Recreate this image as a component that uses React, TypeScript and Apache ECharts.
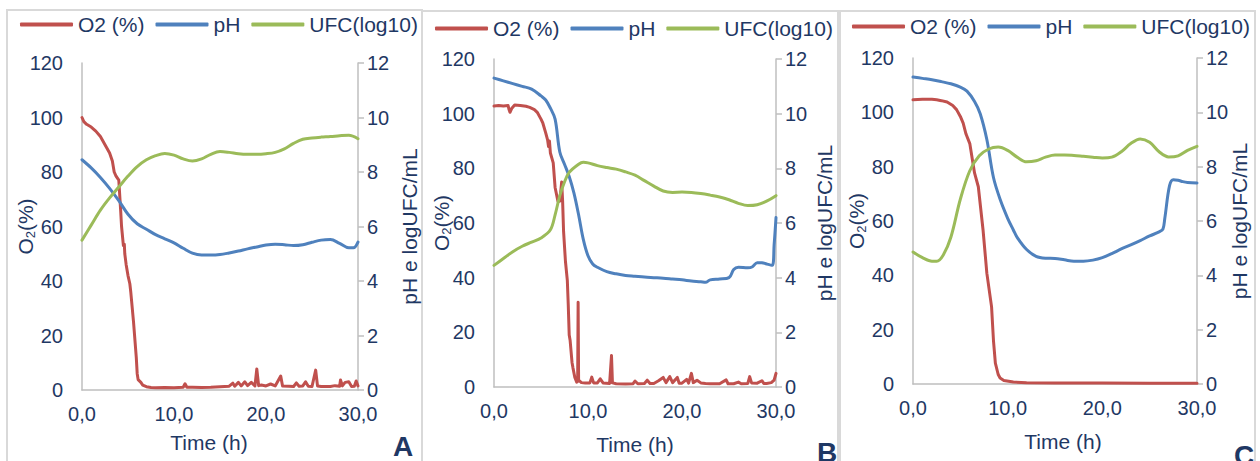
import React, { useEffect, useRef } from "react";
import * as echarts from "echarts";

// ---------- DATA (time in h, value) ----------
const seriesNames = ["O2 (%)", "pH", "UFC(log10)"];
const panelLetters = ["A", "B", "C"];
const xTickMax = 30;
const leftAxisMax = 120;
const rightAxisMax = 12;

const o2A: [number, number][] = [
  [0, 100], [0.2, 98.5], [0.5, 97.5], [1.0, 96.5], [1.5, 95], [2.0, 93], [2.5, 90], [3.0, 87], [3.3, 84],
  [3.5, 80], [3.7, 78.5], [4.0, 77], [4.2, 66], [4.3, 60], [4.5, 53], [4.6, 53.5], [4.65, 50], [4.8, 46],
  [5.0, 42], [5.2, 39], [5.3, 36], [5.6, 25], [5.9, 12], [6.0, 6], [6.1, 3.8], [6.4, 2.8], [6.6, 1.8],
  [7.0, 1.2], [7.5, 0.9], [8, 0.8], [9, 0.9], [10, 0.8], [11, 1.0], [11.2, 2.3], [11.4, 1.0], [12, 1.0],
  [13, 0.9], [14, 1.0], [15, 1.2], [16, 1.4], [16.4, 2.5], [16.6, 1.4], [17, 2.8], [17.3, 1.5], [17.7, 3],
  [18, 1.6], [18.4, 2.8], [18.8, 1.5], [19.0, 7.7], [19.2, 1.6], [19.5, 1.8], [20, 1.5], [20.5, 2.2],
  [21, 1.5], [21.6, 5.1], [21.8, 1.5], [22.5, 1.4], [23, 1.3], [23.3, 2.6], [23.6, 1.4], [24, 1.5],
  [24.3, 3], [24.6, 1.4], [25, 1.3], [25.4, 7.3], [25.6, 1.5], [26, 1.3], [27, 1.3], [27.5, 1.6], [28, 1.4],
  [28.1, 3.7], [28.3, 1.5], [28.6, 2.8], [29, 3.0], [29.3, 1.3], [29.6, 1.4], [29.8, 3.3], [30, 1.5],
];
const phA: [number, number][] = [
  [0, 8.45], [1, 8.15], [2, 7.8], [3, 7.4], [4, 6.95], [5, 6.45], [6, 6.1], [7, 5.9], [8, 5.7], [9, 5.55],
  [10, 5.4], [11, 5.2], [12, 5.02], [13, 4.95], [14, 4.95], [15, 4.97], [16, 5.03], [17, 5.1], [18, 5.18],
  [19, 5.25], [20, 5.32], [21, 5.35], [22, 5.33], [23, 5.3], [24, 5.33], [25, 5.42], [26, 5.5], [27, 5.52],
  [28, 5.38], [29, 5.22], [29.5, 5.22], [30, 5.43],
];
const ufcA: [number, number][] = [
  [0, 5.5], [1, 6.05], [2, 6.6], [3, 7.05], [4, 7.45], [5, 7.85], [6, 8.2], [7, 8.45], [8, 8.6], [9, 8.68],
  [10, 8.62], [11, 8.48], [12, 8.4], [13, 8.48], [14, 8.65], [15, 8.75], [16, 8.72], [17, 8.67], [18, 8.65],
  [19, 8.65], [20, 8.67], [21, 8.72], [22, 8.85], [23, 9.05], [24, 9.2], [25, 9.25], [26, 9.28], [27, 9.3],
  [28, 9.33], [29, 9.35], [30, 9.22],
];

const o2B: [number, number][] = [
  [0, 102.8], [0.5, 103], [1, 102.8], [1.5, 103], [1.6, 101.5], [1.7, 100.5], [1.9, 102], [2.2, 103.2],
  [2.8, 103], [3.4, 102.7], [3.8, 102.3], [4.3, 101.5], [4.6, 100.5], [5.0, 98], [5.2, 96.5], [5.5, 93],
  [5.7, 90.4], [5.8, 88], [5.9, 90], [6.0, 85.6], [6.3, 82], [6.5, 73], [6.8, 68], [7.0, 68], [7.2, 75],
  [7.3, 68], [7.4, 57], [7.6, 46], [7.8, 39], [7.9, 30], [8.0, 19], [8.1, 17], [8.3, 9], [8.4, 7], [8.6, 3.5],
  [8.8, 1.8], [8.9, 2], [8.95, 31], [9.0, 2.5], [9.3, 1.6], [9.7, 1.5], [10.2, 1.5], [10.4, 3.6], [10.6, 1.5],
  [11, 1.5], [11.3, 3], [11.6, 1.5], [12.3, 1.3], [12.5, 11.5], [12.6, 1.5], [13, 1.2], [14, 1.1], [14.8, 1.2],
  [15, 2.2], [15.3, 1.2], [16, 1.3], [16.3, 2.5], [16.6, 1.3], [17, 1.3], [17.5, 2.3], [18, 3.5], [18.3, 1.6],
  [18.7, 3.8], [19, 1.6], [19.5, 3.5], [19.7, 1.4], [20, 1.4], [20.5, 2.8], [20.7, 1.4], [21, 5], [21.2, 1.6],
  [21.6, 2.5], [22, 1.5], [22.5, 1.3], [23, 1.2], [24, 1.2], [24.7, 2.6], [24.9, 1.2], [25.5, 1.2], [26, 1.8],
  [26.3, 1.2], [27, 1.3], [27.2, 3.8], [27.4, 1.5], [28, 1.4], [28.5, 2.3], [28.7, 1.3], [29, 1.3],
  [29.5, 1.6], [29.8, 2.5], [30, 5],
];
const phB: [number, number][] = [
  [0, 11.3], [1, 11.2], [2, 11.1], [3, 11.0], [4, 10.9], [5, 10.65], [5.5, 10.5], [6, 10.2], [6.5, 9.8],
  [7, 8.6], [7.5, 8.15], [8, 7.7], [8.5, 7.1], [9, 6.3], [9.5, 5.4], [10, 4.8], [10.5, 4.5], [11, 4.38],
  [12, 4.22], [13, 4.14], [14, 4.08], [15, 4.05], [16, 4.02], [17, 4.0], [18, 3.98], [19, 3.95], [20, 3.92],
  [21, 3.88], [22, 3.85], [22.5, 3.83], [23, 3.92], [24, 3.95], [25, 4.0], [25.5, 4.3], [26, 4.38],
  [27, 4.36], [27.5, 4.4], [28, 4.55], [28.5, 4.55], [29, 4.5], [29.6, 4.45], [29.8, 5.2], [30, 6.2],
];
const ufcB: [number, number][] = [
  [0, 4.45], [1, 4.7], [2, 4.95], [3, 5.15], [4, 5.3], [5, 5.45], [6, 5.75], [6.5, 6.3], [7, 7.0], [7.5, 7.5],
  [8, 7.85], [9, 8.15], [9.5, 8.22], [10, 8.2], [11, 8.1], [12, 8.03], [13, 7.97], [14, 7.87], [15, 7.75],
  [16, 7.55], [17, 7.35], [18, 7.17], [19, 7.12], [20, 7.13], [21, 7.12], [22, 7.08], [23, 7.02], [24, 6.95],
  [25, 6.85], [26, 6.72], [27, 6.64], [28, 6.67], [29, 6.8], [30, 7.0],
];

const o2C: [number, number][] = [
  [0, 104.6], [1, 104.8], [2, 104.8], [2.5, 104.6], [3, 104.3], [3.6, 103.8], [4.2, 102.5], [4.6, 101],
  [5.0, 98.5], [5.3, 96], [5.6, 92], [6.0, 88.5], [6.3, 82], [6.5, 77.7], [6.9, 72.6], [7.4, 56.7],
  [7.8, 40.8], [8.3, 28.4], [8.5, 16], [8.7, 7.7], [9.0, 3.5], [9.2, 2.2], [9.6, 1.3], [10.6, 0.7],
  [12, 0.5], [15, 0.4], [20, 0.4], [25, 0.3], [30, 0.3],
];
const phC: [number, number][] = [
  [0, 11.3], [1, 11.25], [2, 11.2], [3, 11.13], [4, 11.05], [5, 10.93], [5.7, 10.78], [6.5, 10.4],
  [7.1, 9.95], [7.8, 9.0], [8.5, 7.6], [9.2, 6.8], [10, 6.1], [10.6, 5.67], [11, 5.4], [12, 4.95], [13, 4.7],
  [14, 4.63], [15, 4.62], [16, 4.57], [17, 4.52], [18, 4.52], [19, 4.56], [20, 4.65], [21, 4.8], [22, 4.97],
  [23, 5.12], [24, 5.28], [25, 5.45], [26, 5.6], [26.4, 5.7], [26.6, 6.1], [27.1, 7.3], [27.5, 7.52],
  [28, 7.5], [28.5, 7.45], [29, 7.42], [30, 7.4],
];
const ufcC: [number, number][] = [
  [0, 4.86], [1, 4.65], [2, 4.52], [2.5, 4.52], [3.2, 4.75], [4, 5.4], [5, 6.8], [6, 7.85], [7, 8.4],
  [8, 8.65], [9, 8.72], [10, 8.6], [11, 8.35], [12, 8.18], [13, 8.22], [14, 8.35], [15, 8.43], [16, 8.43],
  [17, 8.41], [18, 8.38], [19, 8.35], [20, 8.32], [21, 8.35], [22, 8.55], [23, 8.85], [24, 9.02], [25, 8.9],
  [26, 8.55], [27, 8.36], [28, 8.4], [29, 8.6], [30, 8.75],
];

const panelData = [
  [o2A, phA, ufcA],
  [o2B, phB, ufcB],
  [o2C, phC, ufcC],
];

// ---------- LAYOUT / STYLE ----------
const FONT = "'Liberation Sans', Arial, sans-serif";
const TEXT = "#1F3864";
const AXIS = "#BFBFBF";
const COLORS = ["#C0504D", "#4F81BD", "#9BBB59"];

const layout = [
  { grid: { left: 82, top: 63, width: 276, height: 327 }, legendLeft: 20, legendTop: 14, lGap: 45, rGap: 41, xGap: 42, xPad: [0, 22, 0, 0], letterX: 403, letterY: 446, border: [7, 422] },
  { grid: { left: 494, top: 59, width: 282, height: 328 }, legendLeft: 435, legendTop: 18, lGap: 41, rGap: 38, xGap: 47, xPad: [0, 0, 0, 0], letterX: 827, letterY: 452, border: [422, 838] },
  { grid: { left: 913, top: 58, width: 284, height: 326 }, legendLeft: 852, legendTop: 16, lGap: 45, rGap: 32, xGap: 47, xPad: [0, 0, 0, 16], letterX: 1244, letterY: 455, border: [840, 1255] },
];

export default function App() {
  const ref = useRef<HTMLDivElement>(null);

  useEffect(() => {
    if (!ref.current) return;
    const chart = echarts.init(ref.current, undefined, { renderer: "svg" });

    const grid: any[] = [];
    const xAxis: any[] = [];
    const yAxis: any[] = [];
    const series: any[] = [];
    const legend: any[] = [];
    const graphic: any[] = [];

    layout.forEach((L, i) => {
      grid.push({ ...L.grid, containLabel: false });
      xAxis.push({
        type: "value",
        gridIndex: i,
        min: 0,
        max: xTickMax,
        interval: 10,
        name: "Time (h)",
        nameLocation: "middle",
        nameGap: L.xGap,
        nameMoveOverlap: false,
        nameTextStyle: { fontSize: 21, color: TEXT, fontFamily: FONT, padding: L.xPad },
        axisLine: { show: true, lineStyle: { color: AXIS, width: 1.5 } },
        axisTick: { show: false },
        splitLine: { show: false },
        axisLabel: {
          fontSize: 20,
          color: TEXT,
          fontFamily: FONT,
          margin: 14,
          formatter: (v: number) => v.toFixed(1).replace(".", ","),
        },
      });
      yAxis.push({
        type: "value",
        gridIndex: i,
        position: "left",
        min: 0,
        max: leftAxisMax,
        interval: 20,
        name: "{a|O}{b|2}{a|(%)}",
        nameLocation: "middle",
        nameGap: L.lGap,
        nameMoveOverlap: false,
        nameTextStyle: {
          rich: {
            a: { fontSize: 21, color: TEXT, fontFamily: FONT, lineHeight: 24 },
            b: { fontSize: 13, color: TEXT, fontFamily: FONT, lineHeight: 14, verticalAlign: "bottom" },
          },
        },
        axisLine: { show: true, lineStyle: { color: AXIS, width: 1.5 } },
        axisTick: { show: false },
        splitLine: { show: false },
        axisLabel: { fontSize: 20, color: TEXT, fontFamily: FONT, margin: 19 },
      });
      yAxis.push({
        type: "value",
        gridIndex: i,
        position: "right",
        min: 0,
        max: rightAxisMax,
        interval: 2,
        name: "pH e logUFC/mL",
        nameLocation: "middle",
        nameGap: L.rGap,
        nameMoveOverlap: false,
        nameTextStyle: { fontSize: 21, color: TEXT, fontFamily: FONT },
        axisLine: { show: true, lineStyle: { color: AXIS, width: 1.5 } },
        axisTick: { show: true, inside: false, length: 6, lineStyle: { color: AXIS, width: 1.5 } },
        splitLine: { show: false },
        axisLabel: { fontSize: 20, color: TEXT, fontFamily: FONT, margin: 9 },
      });

      panelData[i].forEach((d, k) => {
        series.push({
          type: "line",
          name: seriesNames[k],
          xAxisIndex: i,
          yAxisIndex: k === 0 ? 2 * i : 2 * i + 1,
          data: d,
          showSymbol: false,
          symbol: "none",
          smooth: k === 0 ? false : 0.35,
          lineStyle: { color: COLORS[k], width: 3, cap: "round", join: "round" },
          itemStyle: { color: COLORS[k] },
        });
      });

      legend.push({
        data: seriesNames,
        left: L.legendLeft,
        top: L.legendTop,
        width: 440,
        icon: "roundRect",
        itemWidth: 53,
        itemHeight: 4,
        itemGap: 11,
        padding: 0,
        selectedMode: false,
        textStyle: { fontSize: 21, color: TEXT, fontFamily: FONT },
      });

      graphic.push({
        type: "rect",
        shape: { x: L.border[0], y: 10 + (i === 0 ? 0 : 1), width: L.border[1] - L.border[0], height: 480 },
        style: { fill: "none", stroke: "#D9D9D9", lineWidth: 2 },
        silent: true,
        z: -1,
      });
      graphic.push({
        type: "text",
        x: L.letterX,
        y: L.letterY,
        style: {
          text: panelLetters[i],
          fill: TEXT,
          font: `bold 28px ${FONT}`,
          textAlign: "center",
          textVerticalAlign: "middle",
        },
        silent: true,
      });
    });

    chart.setOption({
      animation: false,
      backgroundColor: "#ffffff",
      grid,
      xAxis,
      yAxis,
      series,
      legend,
      graphic,
    });

    return () => chart.dispose();
  }, []);

  return (
    <div
      ref={ref}
      style={{ position: "absolute", left: 0, top: 0, width: 1260, height: 461 }}
    />
  );
}
